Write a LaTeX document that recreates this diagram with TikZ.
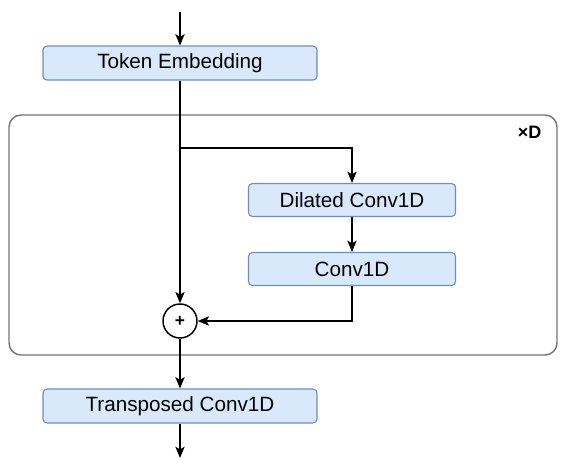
\documentclass[tikz,border=0pt]{standalone}
\usepackage{fontspec}
\setmainfont{Liberation Sans}
\usepackage{tikz}
\usetikzlibrary{arrows.meta, positioning}

\definecolor{boxfill}{HTML}{DAE8FC}
\definecolor{boxline}{HTML}{6C8EBF}
\definecolor{loopline}{HTML}{757575}

\begin{document}
\begin{tikzpicture}[
  x=0.75pt, y=-0.75pt,
  box/.style={draw=boxline, fill=boxfill, rounded corners=3pt, line width=0.8pt,
              minimum width=205.5pt, minimum height=25.5pt,
              font=\fontsize{15.5}{18}\selectfont, align=center, inner sep=0pt},
  arr/.style={-{Stealth[length=8.5pt, width=7pt, inset=2pt]}, line width=1.1pt}
]
  \useasboundingbox (0,0) rectangle (570,465);

  % repeated block
  \node[draw=loopline, line width=1.1pt, rounded corners=9pt,
        minimum width=411pt, minimum height=180pt, inner sep=0pt] (loop) at (283,235) {};
  \node[anchor=east, font=\fontsize{13.5}{16}\selectfont\bfseries] (rep) at (546,132) {×D};

  \coordinate (in) at (180,12);
  \node[box] (emb) at (180,63) {Token Embedding};
  \node[box, minimum width=155.25pt, minimum height=24.75pt] (dil) at (352,200) {Dilated Conv1D};
  \node[box, minimum width=155.25pt, minimum height=24.75pt] (conv) at (352,269) {Conv1D};
  \node[draw, circle, line width=1.1pt, minimum size=25.5pt, inner sep=0pt,
        font=\fontsize{13}{14}\selectfont\bfseries] (plus) at (180,321) {+};
  \node[box] (tconv) at (180,406) {Transposed Conv1D};
  \coordinate (out) at (180,458);
  \coordinate (split) at (180,148);

  \draw[arr] (in) -- (emb);
  \draw[arr] (emb) -- (plus);
  \draw[arr] (split) -| (dil);
  \draw[arr] (dil) -- (conv);
  \draw[arr] (conv) |- (plus);
  \draw[arr] (plus) -- (tconv);
  \draw[arr] (tconv) -- (out);
\end{tikzpicture}
\end{document}
